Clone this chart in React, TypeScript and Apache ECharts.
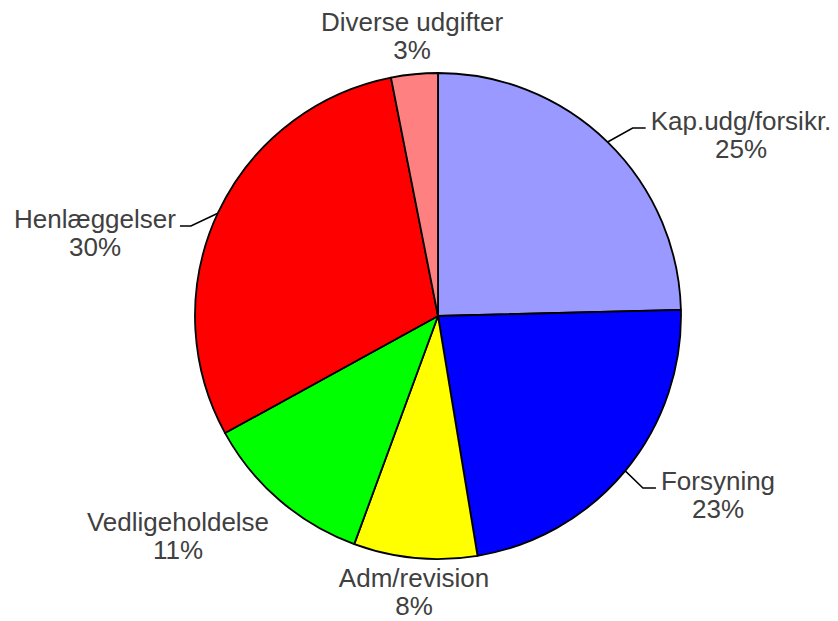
import React, { useEffect, useRef } from "react";
import * as echarts from "echarts";

const categories = [
  "Kap.udg/forsikr.",
  "Forsyning",
  "Adm/revision",
  "Vedligeholdelse",
  "Henlæggelser",
  "Diverse udgifter",
];
const values = [24.6, 22.8, 8.2, 11.4, 29.9, 3.1];
const colors = ["#9999FF", "#0000FF", "#FFFF00", "#00FF00", "#FF0000", "#FF8080"];
const showLeader = [true, true, false, false, true, false];

// layout: pie centre / radius and label block centres (pixels)
const CX = 438;
const CY = 316;
const R = 243;
const labelCenters: number[][] = [
  [741, 135],
  [718, 495],
  [414, 592],
  [178, 536],
  [95, 233],
  [412, 36],
];

export default function App() {
  const ref = useRef<HTMLDivElement>(null);
  useEffect(() => {
    if (!ref.current) return;
    const chart = echarts.init(ref.current, undefined, { renderer: "svg" });
    const data = categories.map((name, i) => ({
      name,
      value: values[i],
      itemStyle: { color: colors[i] },
      labelLine: { show: showLeader[i] },
    }));
    chart.setOption({
      animation: false,
      backgroundColor: "#ffffff",
      series: [
        {
          type: "pie",
          center: [CX, CY],
          radius: [0, R],
          startAngle: 90,
          clockwise: true,
          avoidLabelOverlap: false,
          silent: true,
          data,
          itemStyle: { borderColor: "#000000", borderWidth: 1.8 },
          label: {
            show: true,
            position: "outside",
            color: "#404040",
            fontFamily: "Liberation Sans, Arial, sans-serif",
            fontSize: 26,
            lineHeight: 28,
            formatter: (p: any) => `${p.name}\n${Math.round(p.percent)}%`,
          },
          labelLine: {
            show: true,
            length: 15,
            length2: 10,
            lineStyle: { color: "#000000", width: 1.5 },
          },
          labelLayout: (p: any) => {
            const i = p.dataIndex;
            const [x, y] = labelCenters[i];
            const w = p.labelRect ? p.labelRect.width : 0;
            const res: any = { x, y, align: "center", verticalAlign: "middle" };
            if (showLeader[i] && p.labelLinePoints) {
              const start = p.labelLinePoints[0];
              const right = x > CX;
              const endX = right ? x - w / 2 - 5 : x + w / 2 + 4;
              const endY = y - 7;
              const elbowX = right ? endX - 13 : endX + 11;
              res.labelLinePoints = [start, [elbowX, endY], [endX, endY]];
            }
            return res;
          },
        },
      ],
    });
    return () => chart.dispose();
  }, []);
  return (
    <div
      ref={ref}
      style={{ position: "fixed", left: 0, top: 0, width: 838, height: 621 }}
    />
  );
}
